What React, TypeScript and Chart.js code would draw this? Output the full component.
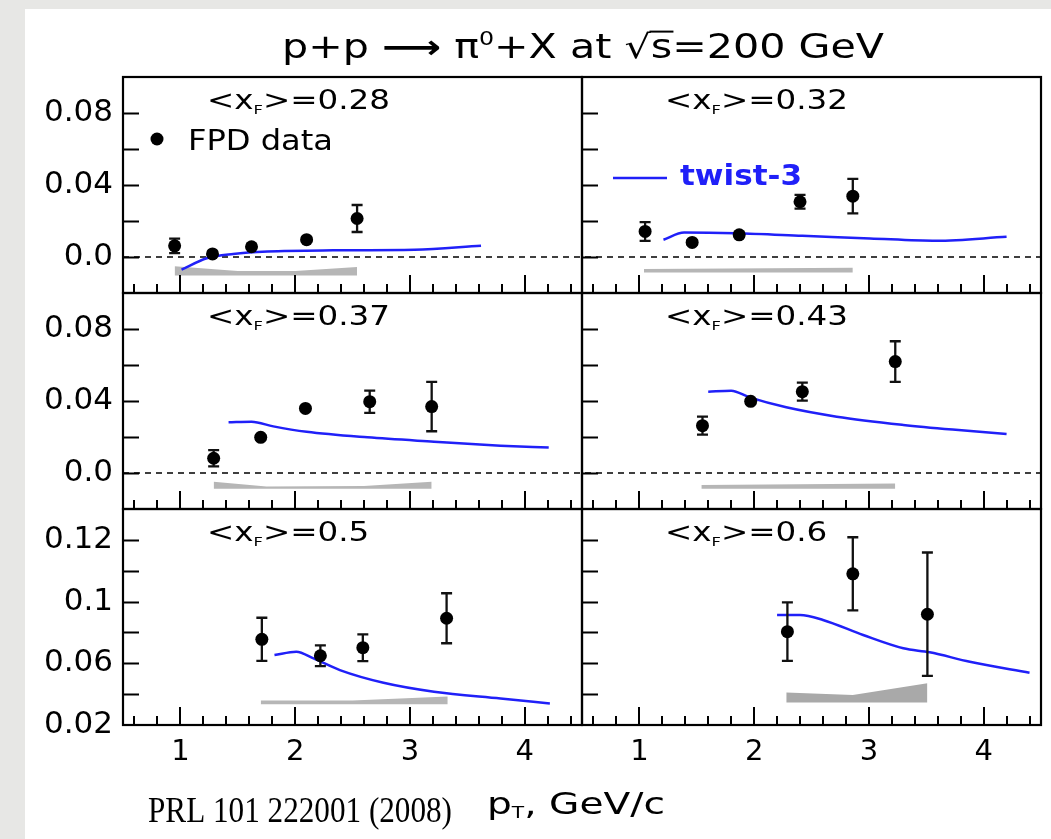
import React, { useEffect, useRef } from "react";
import { Chart, registerables } from "chart.js";

Chart.register(...registerables);

// ---------- axes ----------
const X_MIN = 0.5;
const X_MAX = 4.5;
const xTickValues = [1, 2, 3, 4];
const xTickLabels = ["1", "2", "3", "4"];
const xMinorTicks = [0.6, 0.8, 1.2, 1.4, 1.6, 1.8, 2.2, 2.4, 2.6, 2.8, 3.2, 3.4, 3.6, 3.8, 4.2, 4.4];

const rowMin = [-0.02, -0.02, 0.02];
const rowMax = [0.1, 0.1, 0.16];
const yTickValuesUpper = [0.08, 0.04, 0.0];
const yTickLabelsUpper = ["0.08", "0.04", "0.0"];
const yTickValuesLower = [0.14, 0.1, 0.06, 0.02];
const yTickLabelsLower = ["0.12", "0.1", "0.06", "0.02"];
const yMinorUpper = [0.08, 0.06, 0.04, 0.02, 0.0];
const yMinorLower = [0.14, 0.12, 0.1, 0.08, 0.06, 0.04];

// ---------- panel labels <x_F> ----------
const xfLabels = ["0.28", "0.32", "0.37", "0.43", "0.5", "0.6"];

// ---------- FPD data: pT, A_N, error ----------
const fpd1X = [0.95, 1.28, 1.62, 2.1, 2.54];
const fpd1Y = [0.0062, 0.0017, 0.0057, 0.0096, 0.0214];
const fpd1E = [0.004, 0.0012, 0.0012, 0.0012, 0.0075];

const fpd2X = [1.05, 1.46, 1.87, 2.4, 2.86];
const fpd2Y = [0.0142, 0.0081, 0.0123, 0.0307, 0.0338];
const fpd2E = [0.0052, 0.0012, 0.0012, 0.0038, 0.0096];

const fpd3X = [1.29, 1.7, 2.09, 2.65, 3.19];
const fpd3Y = [0.0082, 0.0198, 0.0359, 0.0396, 0.0369];
const fpd3E = [0.0045, 0.0012, 0.0012, 0.0062, 0.0137];

const fpd4X = [1.55, 1.97, 2.42, 3.23];
const fpd4Y = [0.0263, 0.0398, 0.0452, 0.0619];
const fpd4E = [0.005, 0.0012, 0.005, 0.0113];

const fpd5X = [1.71, 2.22, 2.59, 3.32];
const fpd5Y = [0.0755, 0.0649, 0.0701, 0.0892];
const fpd5E = [0.014, 0.0067, 0.0087, 0.0162];

const fpd6X = [2.29, 2.86, 3.51];
const fpd6Y = [0.0805, 0.118, 0.0918];
const fpd6E = [0.019, 0.0237, 0.04];

// ---------- twist-3 curves ----------
const tw1X = [1.01, 1.23, 1.46, 1.76, 2.33, 3.04, 3.62];
const tw1Y = [-0.007, -0.0007, 0.0017, 0.0031, 0.0037, 0.004, 0.0062];

const tw2X = [1.21, 1.39, 1.84, 2.42, 3.01, 3.59, 4.2];
const tw2Y = [0.0096, 0.0136, 0.0132, 0.0118, 0.0103, 0.009, 0.0112];

const tw3X = [1.42, 1.62, 1.81, 2.1, 2.63, 3.21, 3.79, 4.21];
const tw3Y = [0.0282, 0.0285, 0.0259, 0.0229, 0.0198, 0.0174, 0.0152, 0.0141];

const tw4X = [1.6, 1.8, 1.96, 2.28, 2.72, 3.3, 3.73, 4.2];
const tw4Y = [0.0452, 0.0457, 0.042, 0.0365, 0.0313, 0.0267, 0.0241, 0.0217];

const tw5X = [1.82, 2.01, 2.16, 2.39, 2.77, 3.21, 3.79, 4.22];
const tw5Y = [0.0653, 0.0675, 0.0632, 0.0556, 0.0474, 0.0416, 0.0372, 0.034];

const tw6X = [2.2, 2.4, 2.6, 2.95, 3.3, 3.53, 3.88, 4.4];
const tw6Y = [0.0913, 0.0913, 0.0881, 0.0783, 0.0697, 0.0671, 0.061, 0.0539];

// ---------- systematic bands ----------
const band1X = [0.95, 1.5, 2.0, 2.54];
const band1Lo = [-0.0103, -0.0103, -0.0103, -0.0103];
const band1Hi = [-0.0051, -0.0078, -0.0078, -0.0055];

const band2X = [1.04, 2.86];
const band2Lo = [-0.0086, -0.0086];
const band2Hi = [-0.0066, -0.006];

const band3X = [1.29, 1.75, 2.6, 3.19];
const band3Lo = [-0.0087, -0.0087, -0.0087, -0.0087];
const band3Hi = [-0.0048, -0.0075, -0.0072, -0.0048];

const band4X = [1.54, 3.23];
const band4Lo = [-0.0087, -0.0087];
const band4Hi = [-0.0067, -0.0058];

const band5X = [1.7, 2.5, 3.33];
const band5Lo = [0.0335, 0.0335, 0.0335];
const band5Hi = [0.0358, 0.0358, 0.0385];

const band6X = [2.28, 2.86, 3.51];
const band6Lo = [0.0346, 0.0346, 0.0346];
const band6Hi = [0.0411, 0.0395, 0.047];

const panels = [
  { x: fpd1X, y: fpd1Y, e: fpd1E, tx: tw1X, ty: tw1Y, bx: band1X, blo: band1Lo, bhi: band1Hi },
  { x: fpd2X, y: fpd2Y, e: fpd2E, tx: tw2X, ty: tw2Y, bx: band2X, blo: band2Lo, bhi: band2Hi },
  { x: fpd3X, y: fpd3Y, e: fpd3E, tx: tw3X, ty: tw3Y, bx: band3X, blo: band3Lo, bhi: band3Hi },
  { x: fpd4X, y: fpd4Y, e: fpd4E, tx: tw4X, ty: tw4Y, bx: band4X, blo: band4Lo, bhi: band4Hi },
  { x: fpd5X, y: fpd5Y, e: fpd5E, tx: tw5X, ty: tw5Y, bx: band5X, blo: band5Lo, bhi: band5Hi },
  { x: fpd6X, y: fpd6Y, e: fpd6E, tx: tw6X, ty: tw6Y, bx: band6X, blo: band6Lo, bhi: band6Hi },
];

const BLUE = "#2020f8";
const GRAY = "#b6b6b6";
const GRAY_DARK = "#a9a9a9";
const SANS = "'DejaVu Sans', 'Liberation Sans', sans-serif";
const SERIF = "'Liberation Serif', 'DejaVu Serif', serif";

type Run = { t: string; size: number; dy?: number; bold?: boolean; family?: string; over?: boolean };

function fontOf(r: Run) {
  return `${r.bold ? "bold " : ""}${r.size}px ${r.family || SANS}`;
}

function drawRuns(
  ctx: CanvasRenderingContext2D,
  runs: Run[],
  x: number,
  y: number,
  opt: { width?: number; sx?: number; align?: "left" | "center"; color?: string }
) {
  let total = 0;
  const widths = runs.map((r) => {
    ctx.font = fontOf(r);
    const w = ctx.measureText(r.t).width;
    total += w;
    return w;
  });
  const sx = opt.width ? opt.width / total : opt.sx ?? 1;
  const startX = opt.align === "center" ? x - (total * sx) / 2 : x;
  const color = opt.color || "#000";
  ctx.save();
  ctx.translate(startX, y);
  ctx.scale(sx, 1);
  ctx.fillStyle = color;
  ctx.strokeStyle = color;
  ctx.textAlign = "left";
  ctx.textBaseline = "alphabetic";
  let cx = 0;
  runs.forEach((r, i) => {
    ctx.font = fontOf(r);
    ctx.fillText(r.t, cx, r.dy || 0);
    if (r.over) {
      ctx.lineWidth = 2;
      ctx.beginPath();
      ctx.moveTo(cx - 1, -r.size * 0.8);
      ctx.lineTo(cx + widths[i] + 1, -r.size * 0.8);
      ctx.stroke();
    }
    cx += widths[i];
  });
  ctx.restore();
  return sx;
}

function xfRuns(v: string): Run[] {
  return [
    { t: "<", size: 26 },
    { t: "x", size: 26 },
    { t: "F", size: 13, dy: 5 },
    { t: ">", size: 26 },
    { t: "=" + v, size: 26 },
  ];
}

const decorPlugin = {
  id: "decor",
  beforeDatasetsDraw(chart: any) {
    const ctx: CanvasRenderingContext2D = chart.ctx;
    ctx.save();
    ctx.strokeStyle = "#000";
    ctx.lineWidth = 1.5;
    ctx.setLineDash([6, 5]);
    for (const r of [0, 1]) {
      const ys = chart.scales["y" + r];
      const py = ys.getPixelForValue(0);
      ctx.beginPath();
      ctx.moveTo(chart.scales.x0.left, py);
      ctx.lineTo(chart.scales.x1.right, py);
      ctx.stroke();
    }
    ctx.restore();
  },
  beforeDatasetDraw(chart: any, args: any) {
    const ds = chart.data.datasets[args.index];
    if (!ds.errors) return;
    const ctx: CanvasRenderingContext2D = chart.ctx;
    const xs = chart.scales[ds.xAxisID];
    const ys = chart.scales[ds.yAxisID];
    ctx.save();
    ctx.strokeStyle = "#111";
    ctx.lineWidth = 2.3;
    ds.data.forEach((p: any, i: number) => {
      const e = ds.errors[i];
      const px = xs.getPixelForValue(p.x);
      const y1 = ys.getPixelForValue(p.y + e);
      const y2 = ys.getPixelForValue(p.y - e);
      ctx.beginPath();
      ctx.moveTo(px, y1);
      ctx.lineTo(px, y2);
      ctx.moveTo(px - 5.5, y1);
      ctx.lineTo(px + 5.5, y1);
      ctx.moveTo(px - 5.5, y2);
      ctx.lineTo(px + 5.5, y2);
      ctx.stroke();
    });
    ctx.restore();
  },
  afterDatasetsDraw(chart: any) {
    const ctx: CanvasRenderingContext2D = chart.ctx;
    ctx.save();
    ctx.strokeStyle = "#000";
    ctx.setLineDash([]);
    for (let r = 0; r < 3; r++) {
      const ys = chart.scales["y" + r];
      const minor = r < 2 ? yMinorUpper : yMinorLower;
      for (let c = 0; c < 2; c++) {
        const xs = chart.scales["x" + c];
        ctx.lineWidth = 2;
        ctx.beginPath();
        minor.forEach((v) => {
          const py = Math.round(ys.getPixelForValue(v)) + 0.5;
          ctx.moveTo(xs.left, py);
          ctx.lineTo(xs.left + 16, py);
        });
        xTickValues.forEach((v) => {
          const px = Math.round(xs.getPixelForValue(v));
          ctx.moveTo(px, ys.bottom);
          ctx.lineTo(px, ys.bottom - 18);
        });
        xMinorTicks.forEach((v) => {
          const px = Math.round(xs.getPixelForValue(v));
          ctx.moveTo(px, ys.bottom);
          ctx.lineTo(px, ys.bottom - 9);
        });
        ctx.stroke();
        ctx.lineWidth = 2.2;
        ctx.strokeRect(xs.left, ys.top, xs.right - xs.left, ys.bottom - ys.top);
      }
    }
    ctx.restore();

    // panel labels
    let sx = 1;
    xfLabels.forEach((v, i) => {
      const c = i % 2;
      const r = Math.floor(i / 2);
      const xs = chart.scales["x" + c];
      const ys = chart.scales["y" + r];
      const left = xs.left + (c === 0 ? 84 : 83);
      const base = ys.top + 32;
      if (i === 0) sx = drawRuns(ctx, xfRuns(v), left, base, { width: 183 });
      else drawRuns(ctx, xfRuns(v), left, base, { sx });
    });

    // legend: FPD data
    ctx.save();
    ctx.fillStyle = "#000";
    ctx.beginPath();
    ctx.arc(157, 139, 6.5, 0, Math.PI * 2);
    ctx.fill();
    ctx.restore();
    drawRuns(ctx, [{ t: "FPD data", size: 28 }], 188, 150, { width: 145 });

    // legend: twist-3
    ctx.save();
    ctx.strokeStyle = BLUE;
    ctx.lineWidth = 2.5;
    ctx.beginPath();
    ctx.moveTo(613, 178);
    ctx.lineTo(667, 178);
    ctx.stroke();
    ctx.restore();
    drawRuns(ctx, [{ t: "twist-3", size: 28, bold: true }], 680, 185, { width: 122, color: BLUE });

    // title
    drawRuns(
      ctx,
      [
        { t: "p+p ", size: 33 },
        { t: "\u27F6", size: 33, bold: true },
        { t: " \u03C0", size: 33 },
        { t: "0", size: 19, dy: -13 },
        { t: "+X at ", size: 33 },
        { t: "\u221A", size: 33 },
        { t: "s", size: 33, over: true },
        { t: "=200 GeV", size: 33 },
      ],
      282,
      58,
      { width: 602 }
    );

    // x-axis title
    drawRuns(
      ctx,
      [
        { t: "p", size: 31 },
        { t: "T", size: 16, dy: 4 },
        { t: ", GeV/c", size: 31 },
      ],
      487,
      814,
      { width: 178 }
    );

    // citation
    drawRuns(ctx, [{ t: "PRL 101 222001 (2008)", size: 35, family: SERIF }], 148, 822, { width: 304 });
  },
};

function zip(xs: number[], ys: number[]) {
  return xs.map((x, i) => ({ x, y: ys[i] }));
}

export default function App() {
  const canvasRef = useRef<HTMLCanvasElement | null>(null);

  useEffect(() => {
    if (!canvasRef.current) return;
    const datasets: any[] = [];
    panels.forEach((p, i) => {
      const c = i % 2;
      const r = Math.floor(i / 2);
      const xAxisID = "x" + c;
      const yAxisID = "y" + r;
      datasets.push({
        type: "scatter",
        label: "FPD data",
        data: zip(p.x, p.y),
        errors: p.e,
        xAxisID,
        yAxisID,
        pointRadius: 6.5,
        pointBackgroundColor: "#000",
        pointBorderColor: "#000",
        pointBorderWidth: 0,
        showLine: false,
        order: 0,
      });
      datasets.push({
        type: "line",
        label: "twist-3",
        data: zip(p.tx, p.ty),
        xAxisID,
        yAxisID,
        borderColor: BLUE,
        borderWidth: 2.5,
        pointRadius: 0,
        fill: false,
        cubicInterpolationMode: "monotone",
        order: 1,
      });
      const loIndex = datasets.length;
      datasets.push({
        type: "line",
        label: "sys-lo",
        data: zip(p.bx, p.blo),
        xAxisID,
        yAxisID,
        borderColor: "rgba(0,0,0,0)",
        borderWidth: 0,
        pointRadius: 0,
        fill: false,
        order: 2,
      });
      datasets.push({
        type: "line",
        label: "sys-hi",
        data: zip(p.bx, p.bhi),
        xAxisID,
        yAxisID,
        borderColor: "rgba(0,0,0,0)",
        borderWidth: 0,
        pointRadius: 0,
        fill: loIndex,
        backgroundColor: i === 5 ? GRAY_DARK : GRAY,
        order: 2,
      });
    });

    const scales: any = {};
    [0, 1].forEach((c) => {
      scales["x" + c] = {
        type: "linear",
        position: "bottom",
        stack: "cols",
        stackWeight: 1,
        weight: c,
        min: X_MIN,
        max: X_MAX,
        grid: { display: false, drawTicks: false },
        border: { display: false },
        afterBuildTicks: (s: any) => {
          s.ticks = xTickValues.map((v) => ({ value: v }));
        },
        afterFit: (s: any) => {
          s.height = 60;
        },
        ticks: {
          autoSkip: false,
          maxRotation: 0,
          padding: 10,
          color: "#000",
          font: { family: SANS, size: 29 },
          callback: (_v: any, i: number) => xTickLabels[i],
        },
      };
    });
    [0, 1, 2].forEach((r) => {
      const vals = r < 2 ? yTickValuesUpper : yTickValuesLower;
      const labs = r < 2 ? yTickLabelsUpper : yTickLabelsLower;
      scales["y" + r] = {
        type: "linear",
        position: "left",
        stack: "rows",
        stackWeight: 1,
        weight: 3 - r,
        min: rowMin[r],
        max: rowMax[r],
        grid: { display: false, drawTicks: false },
        border: { display: false },
        afterBuildTicks: (s: any) => {
          s.ticks = vals.map((v) => ({ value: v }));
        },
        afterFit: (s: any) => {
          s.width = 100;
        },
        ticks: {
          autoSkip: false,
          padding: 10,
          color: "#000",
          font: { family: SANS, size: 31 },
          callback: (_v: any, i: number) => labs[i],
        },
      };
    });

    const chart = new Chart(canvasRef.current, {
      type: "scatter",
      data: { datasets },
      options: {
        responsive: false,
        maintainAspectRatio: false,
        animation: false,
        devicePixelRatio: 1,
        layout: { padding: { left: 23, top: 77, right: 10, bottom: 54 } },
        plugins: {
          legend: { display: false },
          title: { display: false },
          tooltip: { enabled: false },
        },
        scales,
      } as any,
      plugins: [decorPlugin as any],
    });
    return () => chart.destroy();
  }, []);

  return (
    <div
      style={{
        position: "absolute",
        left: 0,
        top: 0,
        width: 1051,
        height: 839,
        background: "#e7e7e5",
        overflow: "hidden",
      }}
    >
      <div
        style={{
          position: "absolute",
          left: 25,
          top: 9,
          width: 1026,
          height: 830,
          background: "#ffffff",
        }}
      />
      <canvas
        ref={canvasRef}
        width={1051}
        height={839}
        style={{ position: "absolute", left: 0, top: 0 }}
      />
    </div>
  );
}
